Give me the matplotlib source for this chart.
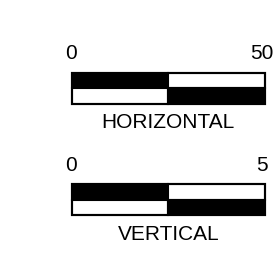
import matplotlib
matplotlib.use("Agg")
import matplotlib.pyplot as plt
from matplotlib.patches import Rectangle

plt.rcParams['font.family'] = ['Liberation Sans', 'DejaVu Sans']

scale_names = ["HORIZONTAL", "VERTICAL"]
scale_max = [50, 5]
tick_labels = [["0", "50"], ["0", "5"]]
# segment boundaries as fraction of scale (two segments)
segments = [0.0, 0.5, 1.0]

W, H = 277, 256
fig = plt.figure(figsize=(W / 100, H / 100), dpi=100)

bar_left_px, bar_right_px = 71.5, 265.0
bar_tops_px = [72.5, 184.0]
bar_h_px = 31.0
fs = 15

for name, mx, labels, top in zip(scale_names, scale_max, tick_labels, bar_tops_px):
    ax = fig.add_axes([bar_left_px / W, 1 - (top + bar_h_px) / H,
                       (bar_right_px - bar_left_px) / W, bar_h_px / H])
    ax.set_xlim(0, mx)
    ax.set_ylim(0, 2)
    ax.axis('off')
    for i in range(len(segments) - 1):
        x0 = segments[i] * mx
        x1 = segments[i + 1] * mx
        top_col = 'black' if i % 2 == 0 else 'white'
        bot_col = 'white' if i % 2 == 0 else 'black'
        ax.barh(1.5, x1 - x0, left=x0, height=1, color=top_col,
                edgecolor='black', linewidth=1.5, clip_on=False)
        ax.barh(0.5, x1 - x0, left=x0, height=1, color=bot_col,
                edgecolor='black', linewidth=1.5, clip_on=False)
    ax.add_patch(Rectangle((0, 0), mx, 2, fill=False, edgecolor='black',
                           linewidth=1.5, clip_on=False))
    ax.annotate(labels[0], xy=(0, 2), xytext=(0, 9.5), textcoords='offset points',
                ha='center', va='baseline', fontsize=fs)
    ax.annotate(labels[1], xy=(mx, 2), xytext=(-2, 9.5), textcoords='offset points',
                ha='center', va='baseline', fontsize=fs)
    ax.annotate(name, xy=(mx / 2, 0), xytext=(0, -18), textcoords='offset points',
                ha='center', va='baseline', fontsize=fs)

fig.savefig("out.png", dpi=100)
